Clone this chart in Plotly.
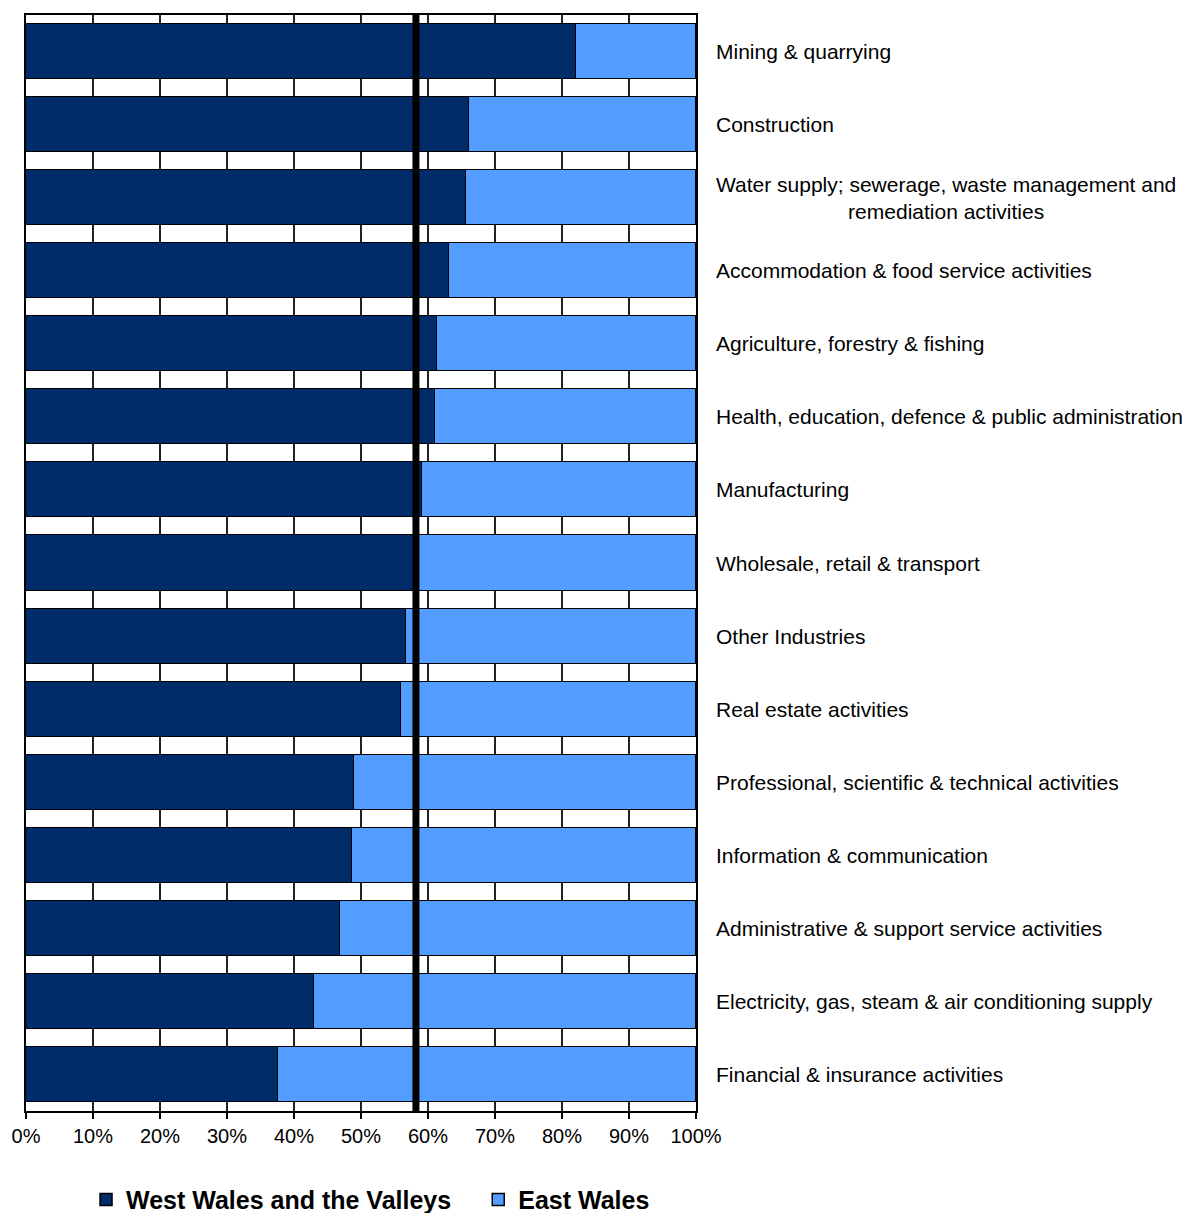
import plotly.graph_objects as go

categories = [
    "Mining & quarrying",
    "Construction",
    "Water supply; sewerage, waste management and<br>remediation activities",
    "Accommodation & food service activities",
    "Agriculture, forestry & fishing",
    "Health, education, defence & public administration",
    "Manufacturing",
    "Wholesale, retail & transport",
    "Other Industries",
    "Real estate activities",
    "Professional, scientific & technical activities",
    "Information & communication",
    "Administrative & support service activities",
    "Electricity, gas, steam & air conditioning supply",
    "Financial & insurance activities",
]
west_wales = [82.1, 66.1, 65.6, 63.1, 61.3, 61.0, 59.1, 58.7, 56.7, 56.0, 49.0, 48.7, 46.9, 43.0, 37.6]
east_wales = [100 - v for v in west_wales]
reference_line = 58.2
x_ticks = [0, 10, 20, 30, 40, 50, 60, 70, 80, 90, 100]
x_tick_labels = [f"{t}%" for t in x_ticks]

DARK = "#002D69"
LIGHT = "#529DFF"
FONT = "Liberation Sans, Arial, sans-serif"
LEGEND_FONT = dict(family="Liberation Sans, Arial", size=25, color="black", weight="bold")

fig = go.Figure()
fig.add_trace(go.Bar(
    y=categories, x=west_wales, orientation="h", name="West Wales and the Valleys",
    marker=dict(color=DARK, line=dict(color="black", width=1.5)), width=0.753,
    legend="legend", showlegend=True,
))
fig.add_trace(go.Bar(
    y=categories, x=east_wales, orientation="h", name="East Wales",
    marker=dict(color=LIGHT, line=dict(color="black", width=1.5)), width=0.753,
    legend="legend2", showlegend=True,
))

fig.add_shape(type="line", xref="x", yref="paper", x0=reference_line, x1=reference_line,
              y0=0, y1=1, line=dict(color="black", width=7), layer="above")

for cat in categories:
    fig.add_annotation(x=1, xref="paper", y=cat, yref="y", text=cat, showarrow=False,
                       xanchor="left", xshift=18, align="center",
                       font=dict(family=FONT, size=21, color="black"))

fig.update_layout(
    barmode="stack",
    showlegend=True,
    width=1191, height=1213,
    margin=dict(l=26, r=495, t=15, b=102, autoexpand=False),
    plot_bgcolor="white", paper_bgcolor="white",
    font=dict(family=FONT, size=20, color="black"),
    bargap=0,
    legend=dict(visible=True, orientation="h", x=0.0896, xanchor="left", y=-0.081, yanchor="middle",
                font=LEGEND_FONT, itemwidth=30),
    legend2=dict(visible=True, orientation="h", x=0.675, xanchor="left", y=-0.081, yanchor="middle",
                 font=LEGEND_FONT, itemwidth=30),
    xaxis=dict(range=[0, 100], tickvals=x_ticks, ticktext=x_tick_labels,
               showgrid=True, gridcolor="#222222", gridwidth=1.5,
               showline=True, linecolor="black", linewidth=2, mirror=True,
               ticks="outside", ticklen=6, tickwidth=1.5, tickcolor="black",
               zeroline=False, tickfont=dict(size=20)),
    yaxis=dict(categoryorder="array", categoryarray=categories, autorange="reversed",
               showticklabels=False, showgrid=False, showline=True, linecolor="black",
               linewidth=2, mirror=True, ticks=""),
)

fig.write_html("out.html")
